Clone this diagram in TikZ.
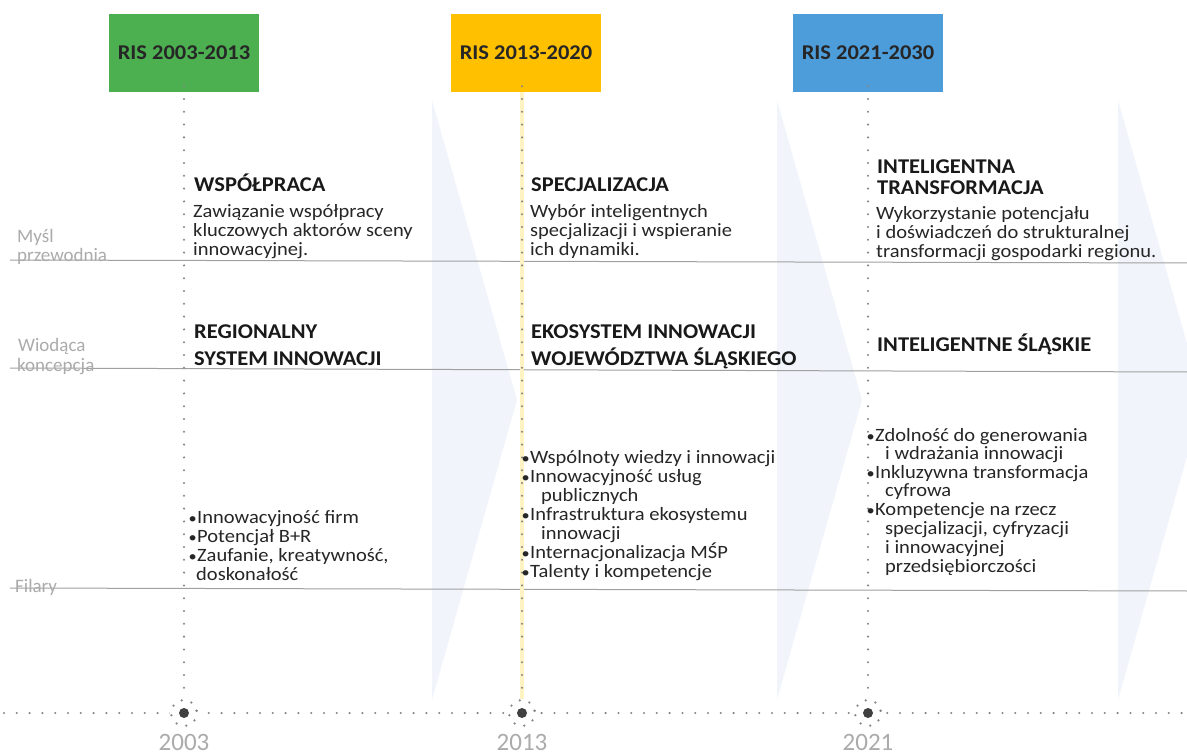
\documentclass[tikz,border=0pt]{standalone}
\usepackage{fontspec}
\setmainfont{Carlito}
\newfontfamily\bodyfont{Carlito}[FakeStretch=1.09]
\newfontfamily\headfont{Carlito}[FakeStretch=1.07,BoldFont={Carlito Bold}]
\definecolor{boxgreen}{HTML}{4CAF50}
\definecolor{boxyellow}{HTML}{FFC000}
\definecolor{boxblue}{HTML}{4E9DDB}
\definecolor{dotgrey}{HTML}{858585}
\definecolor{rowgrey}{HTML}{ABABAB}
\definecolor{lineg}{HTML}{A0A0A0}
\definecolor{chevc}{HTML}{F1F5FB}
\definecolor{ytrack}{HTML}{FFF3C4}
\definecolor{txt}{HTML}{262626}
\newcommand\bul{\llap{{\fontsize{15}{15}\selectfont •}\kern0.5pt}}
\tikzset{
  risbox/.style={fill=#1, minimum width=150pt, minimum height=78pt, inner sep=0pt,
     font=\headfont\bfseries\fontsize{21}{24}\selectfont, text=black!85},
  vdots/.style={dotgrey, line width=2.3pt, line cap=round, dash pattern=on 0pt off 12.8pt},
  rowline/.style={lineg, line width=1pt},
  rowlabel/.style={anchor=base west, inner sep=0pt, text=rowgrey, font=\fontsize{19}{19}\selectfont},
  head/.style={anchor=base west, inner sep=0pt, text=black!90, font=\headfont\bfseries\fontsize{21}{24}\selectfont},
  body/.style={anchor=base west, inner sep=0pt, text=txt, font=\bodyfont\fontsize{18.8}{19}\selectfont},
  year/.style={anchor=base, inner sep=0pt, text=rowgrey, font=\fontsize{25}{25}\selectfont},
  core/.style={circle, minimum size=10pt, inner sep=0pt, fill=black!75},
  chev/.style={fill=chevc}
}
\begin{document}
\begin{tikzpicture}[x=1pt,y=-1pt]
\useasboundingbox (0,0) rectangle (1187,754);
\fill[white] (0,0) rectangle (1187,754);
% chevrons (background)
\foreach \cx in {432,777,1118}
  \fill[chev] (\cx,100) -- (\cx+85,400) -- (\cx,700) -- cycle;
% row separator lines
\coordinate (l1a) at (10,260); \coordinate (l1b) at (1187,263);
\coordinate (l2a) at (10,368); \coordinate (l2b) at (1187,372);
\coordinate (l3a) at (10,588); \coordinate (l3b) at (1187,591);
\draw[rowline] (l1a) -- (l1b);
\draw[rowline] (l2a) -- (l2b);
\draw[rowline] (l3a) -- (l3b);
% row labels
\node[rowlabel] (rl1) at (17,243) {Myśl};
\node[rowlabel] (rl2) at (17,262) {przewodnia};
\node[rowlabel] (rl3) at (18,352) {Wiodąca};
\node[rowlabel] (rl4) at (17,371) {koncepcja};
\node[rowlabel] (rl5) at (15,592) {Filary};
% boxes
\node[risbox=boxgreen]  (b1) at (184,53) {RIS 2003-2013};
\node[risbox=boxyellow] (b2) at (526,53) {RIS 2013-2020};
\node[risbox=boxblue]   (b3) at (868,53) {RIS 2021-2030};
% timeline
\coordinate (tl) at (4,713); \coordinate (tr) at (1187,713);
\draw[vdots] (tl) -- (tr);
\coordinate (p1) at (184,713); \coordinate (p2) at (522,713); \coordinate (p3) at (868,713);
\draw[ytrack, line width=3.5pt] (b2.south -| p2) -- (p2);
\draw[vdots] ([yshift=6pt]b1.south -| p1) -- (p1);
\draw[vdots] ([yshift=6pt]b2.south -| p2) -- (p2);
\draw[vdots] ([yshift=6pt]b3.south -| p3) -- (p3);
\foreach \p in {p1,p2,p3}{
  \fill[white] (\p) circle (14pt);
  \foreach \a in {10,55,...,370}
    \fill[dotgrey] (\p) ++(\a:12.8pt) circle (1.25pt);
}
\node[core] (c1) at (p1) {};
\node[core] (c2) at (p2) {};
\node[core] (c3) at (p3) {};
\node[year] (y1) at (184,750) {2003};
\node[year] (y2) at (522,750) {2013};
\node[year] (y3) at (868,750) {2021};
% column 1
\node[head] (h1a) at (194,192) {WSPÓŁPRACA};
\node[body] (t1a) at (193,217.5) {Zawiązanie współpracy};
\node[body] (t1b) at (193,236.5) {kluczowych aktorów sceny};
\node[body] (t1c) at (193,255.5) {innowacyjnej.};
\node[head] (k1a) at (194,338) {REGIONALNY};
\node[head] (k1b) at (194,366) {SYSTEM INNOWACJI};
\node[body] (f1a) at (197,523.5) {\bul Innowacyjność firm};
\node[body] (f1b) at (197,542) {\bul Potencjał B+R};
\node[body] (f1c) at (197,561) {\bul Zaufanie, kreatywność,};
\node[body] (f1d) at (196,580) {doskonałość};
% column 2
\node[head] (h2a) at (531,192) {SPECJALIZACJA};
\node[body] (t2a) at (530,218) {Wybór inteligentnych};
\node[body] (t2b) at (530,237) {specjalizacji i wspieranie};
\node[body] (t2c) at (530,256) {ich dynamiki.};
\node[head] (k2a) at (531,338) {EKOSYSTEM INNOWACJI};
\node[head] (k2b) at (531,366) {WOJEWÓDZTWA ŚLĄSKIEGO};
\node[body] (f2a) at (530,463.5) {\bul Wspólnoty wiedzy i innowacji};
\node[body] (f2b) at (530,482) {\bul Innowacyjność usług};
\node[body] (f2c) at (541,501) {publicznych};
\node[body] (f2d) at (530,520.5) {\bul Infrastruktura ekosystemu};
\node[body] (f2e) at (541,539.5) {innowacji};
\node[body] (f2f) at (530,558.5) {\bul Internacjonalizacja MŚP};
\node[body] (f2g) at (530,577.5) {\bul Talenty i kompetencje};
% column 3
\node[head] (h3a) at (877,174) {INTELIGENTNA};
\node[head] (h3b) at (877,194.5) {TRANSFORMACJA};
\node[body] (t3a) at (876,220) {Wykorzystanie potencjału};
\node[body] (t3b) at (876,239) {i doświadczeń do strukturalnej};
\node[body] (t3c) at (876,258) {transformacji gospodarki regionu.};
\node[head] (k3a) at (877,352) {INTELIGENTNE ŚLĄSKIE};
\node[body] (f3a) at (875,441) {\bul Zdolność do generowania};
\node[body] (f3b) at (885,459.5) {i wdrażania innowacji};
\node[body] (f3c) at (875,478) {\bul Inkluzywna transformacja};
\node[body] (f3d) at (885,496.5) {cyfrowa};
\node[body] (f3e) at (875,515.5) {\bul Kompetencje na rzecz};
\node[body] (f3f) at (885,534.5) {specjalizacji, cyfryzacji};
\node[body] (f3g) at (885,553.5) {i innowacyjnej};
\node[body] (f3h) at (885,572.5) {przedsiębiorczości};
\end{tikzpicture}
\end{document}
